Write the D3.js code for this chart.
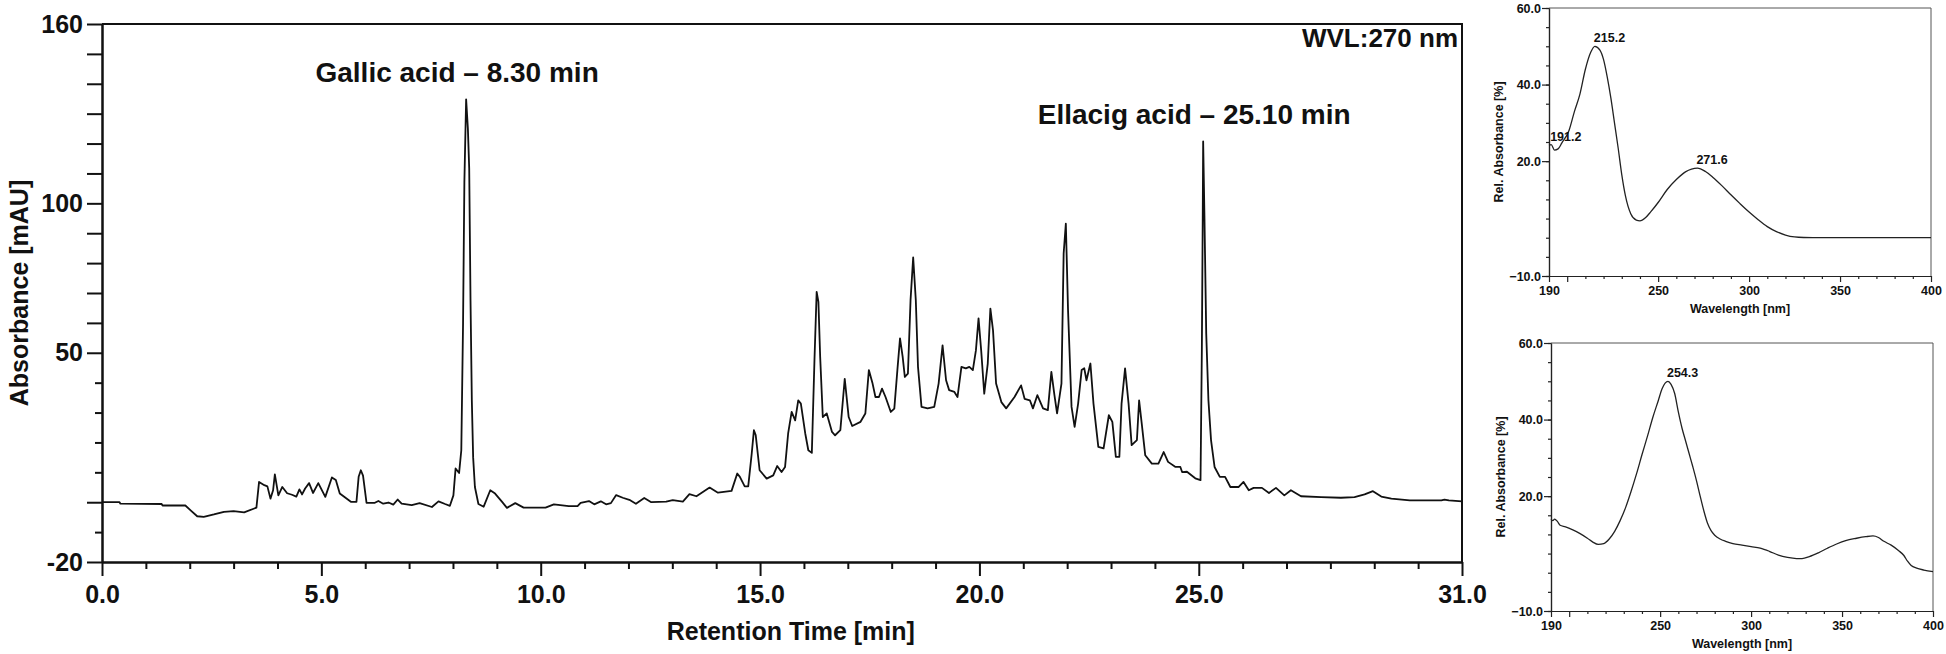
<!DOCTYPE html>
<html>
<head>
<meta charset="utf-8">
<script src="https://cdnjs.cloudflare.com/ajax/libs/d3/7.8.5/d3.min.js"></script>
<style>
	body { margin: 0; background: #fff; }
	svg text { font-family: "Liberation Sans", Arial, sans-serif; font-weight: bold; fill: #111; }
</style>
</head>
<body>
<svg id="chart" width="1946" height="654"></svg>
<script>
// chromatogram at 270 nm (min, mAU)
var retTime = [0.00, 0.40, 0.42, 1.36, 1.38, 1.90, 2.02, 2.17, 2.32, 2.55, 2.78, 3.00, 3.24, 3.47, 3.52, 3.58, 3.70, 3.77, 3.84, 3.90,
	3.94, 4.02, 4.11, 4.22, 4.33, 4.43, 4.50, 4.56, 4.63, 4.72, 4.81, 4.93, 5.09, 5.24, 5.33, 5.42, 5.52, 5.68, 5.80, 5.85,
	5.90, 5.95, 6.03, 6.22, 6.30, 6.41, 6.53, 6.64, 6.74, 6.83, 7.06, 7.24, 7.52, 7.67, 7.82, 7.93, 8.01, 8.06, 8.14, 8.19,
	8.23, 8.26, 8.30, 8.34, 8.37, 8.40, 8.43, 8.46, 8.50, 8.58, 8.70, 8.85, 8.96, 9.12, 9.23, 9.42, 9.61, 10.11, 10.30, 10.64,
	10.84, 10.91, 11.10, 11.22, 11.37, 11.49, 11.60, 11.72, 11.87, 12.02, 12.17, 12.36, 12.52, 12.86, 13.01, 13.24, 13.39, 13.55, 13.85, 14.04,
	14.35, 14.48, 14.54, 14.65, 14.73, 14.81, 14.86, 14.90, 14.99, 15.15, 15.30, 15.39, 15.49, 15.57, 15.64, 15.72, 15.80, 15.87, 15.93, 16.03,
	16.10, 16.18, 16.24, 16.29, 16.33, 16.37, 16.43, 16.52, 16.64, 16.71, 16.83, 16.93, 17.02, 17.10, 17.29, 17.40, 17.48, 17.56, 17.63, 17.71,
	17.78, 17.86, 17.98, 18.06, 18.13, 18.19, 18.25, 18.30, 18.37, 18.43, 18.49, 18.55, 18.60, 18.68, 18.82, 18.97, 19.07, 19.16, 19.24, 19.31,
	19.43, 19.50, 19.59, 19.69, 19.77, 19.85, 19.92, 19.98, 20.04, 20.11, 20.19, 20.25, 20.31, 20.38, 20.50, 20.61, 20.80, 20.95, 21.03, 21.15,
	21.22, 21.32, 21.45, 21.56, 21.64, 21.71, 21.77, 21.87, 21.92, 21.97, 22.02, 22.10, 22.17, 22.25, 22.33, 22.39, 22.44, 22.53, 22.60, 22.71,
	22.83, 22.95, 23.03, 23.11, 23.19, 23.24, 23.32, 23.40, 23.47, 23.59, 23.64, 23.70, 23.78, 23.93, 24.08, 24.20, 24.30, 24.47, 24.58, 24.62,
	24.73, 24.92, 25.04, 25.07, 25.09, 25.10, 25.13, 25.17, 25.22, 25.28, 25.36, 25.48, 25.60, 25.72, 25.91, 26.02, 26.14, 26.25, 26.44, 26.60,
	26.76, 26.95, 27.10, 27.33, 27.79, 28.24, 28.55, 28.78, 28.97, 29.16, 29.39, 29.81, 30.53, 30.60, 30.70, 31.00];
var absMau = [0.0, 0.0, -0.5, -0.6, -1.1, -1.1, -2.7, -4.7, -4.9, -4.1, -3.2, -3.0, -3.4, -2.1, -1.8, 6.8, 5.7, 5.3, 1.2, 4.0,
	9.3, 2.3, 5.1, 3.0, 2.5, 1.9, 4.3, 2.6, 4.6, 6.4, 3.1, 6.4, 1.8, 8.3, 7.4, 2.9, 1.8, 0.1, 0.1, 8.5,
	10.7, 8.9, -0.2, -0.2, 0.4, -0.5, -0.1, -0.8, 0.9, -0.5, -1.0, -0.3, -1.6, 0.3, -0.6, -1.2, 2.3, 11.3, 9.8, 17.4,
	60, 107, 134.8, 125, 111.7, 67.6, 34, 15, 5.1, -0.6, -1.5, 4.0, 2.9, 0.1, -1.9, -0.3, -1.8, -1.8, -0.7, -1.3,
	-1.3, -0.2, 0.4, -0.7, 0.3, -0.7, -0.3, 2.4, 1.5, 0.8, -0.5, 1.4, 0.0, 0.2, 0.7, 0.2, 2.7, 2.0, 4.9, 3.2,
	3.8, 9.6, 8.5, 5.3, 5.3, 16.3, 24.1, 22.5, 10.7, 7.9, 9.0, 12.1, 10.1, 11.8, 23.0, 30.2, 27.4, 34.1, 33.0, 23.0,
	17.4, 16.5, 47.5, 70.4, 67, 48.7, 28.5, 29.7, 23.5, 22.4, 24.1, 41.3, 28.5, 25.5, 26.9, 29.7, 44.2, 40.0, 35.2, 35.2,
	38.0, 35.2, 30.2, 31.3, 44.2, 54.8, 48.7, 41.9, 43.0, 67.6, 81.9, 67.6, 45.3, 31.9, 31.4, 31.9, 39.7, 52.5, 40.8, 37.5,
	36.9, 35.2, 45.3, 44.8, 45.3, 44.2, 50.8, 61.5, 50.8, 36.3, 46.4, 64.8, 57.5, 39.7, 33.5, 31.4, 35.2, 39.1, 34.6, 34.1,
	31.4, 35.8, 31.4, 30.8, 43.6, 35.8, 29.7, 39.7, 83.2, 93.2, 64.2, 31.9, 25.2, 33.0, 44.2, 44.8, 40.8, 46.4, 33.0, 18.5,
	18.0, 29.1, 26.9, 15.2, 15.2, 33.0, 44.8, 33.0, 19.1, 20.8, 34.1, 26.3, 15.7, 12.9, 12.9, 16.8, 13.5, 11.8, 11.8, 10.1,
	10.2, 8.0, 7.4, 50.8, 95, 120.7, 95, 56.4, 34.1, 20.7, 11.8, 8.5, 8.5, 5.1, 5.1, 6.8, 4.0, 4.8, 4.8, 3.1,
	4.8, 2.3, 4.0, 2.0, 1.7, 1.5, 1.7, 2.6, 3.7, 1.9, 1.2, 0.6, 0.6, 0.9, 0.6, 0.3];

var peakNames = ["Gallic acid \u2013 8.30 min", "Ellacig acid \u2013 25.10 min"];
var peakTimes = [8.30, 25.10];
var timeLabels = [0, 5, 10, 15, 20, 25, 31];
var mauLabels = [160, 100, 50, -20];

// UV spectra (nm, rel. absorbance %)
var gallicNm = [190, 191.2, 193, 195, 197, 201, 204, 207, 210, 213, 215.2, 218, 220, 222, 224, 226, 228, 230, 232, 235,
	238, 240, 243, 246, 250, 255, 260, 265, 271.6, 276, 280, 285, 290, 295, 300, 305, 310, 315, 320, 325,
	330, 340, 400];
var gallicRel = [24.1, 24.3, 22.9, 23.2, 24.7, 28, 33, 37.5, 44, 48.5, 50, 49, 46.5, 42, 36.5, 30, 23.5, 16.5, 11, 6.2,
	4.6, 4.4, 5.2, 6.8, 9.2, 12.6, 15.2, 17.2, 18.2, 17.3, 15.8, 13.6, 11.2, 8.9, 6.7, 4.7, 2.9, 1.6, 0.7, 0.2,
	0.05, 0, 0];
var gallicPeaks = [191.2, 215.2, 271.6];

var ellagicNm = [190, 191, 192, 193.5, 195, 198, 202, 206, 210, 213, 216, 219, 222, 225, 228, 231, 234, 237, 240, 243,
	246, 249, 251, 254.3, 256, 258, 260, 262, 264, 266, 268, 270, 272, 274, 276, 278, 280, 283, 286, 290,
	295, 300, 305, 310, 315, 320, 325, 328, 332, 337, 342, 347, 352, 358, 363, 367, 370, 373, 377, 381,
	384, 386, 388, 391, 395, 400];
var ellagicRel = [14.0, 13.6, 14.0, 13.4, 12.4, 12.0, 11.2, 10.2, 9.0, 8.0, 7.4, 7.6, 8.8, 10.8, 13.6, 17.0, 21.2, 25.8, 30.8, 35.6,
	40.6, 45.0, 48.0, 50.0, 49.2, 46.8, 42.0, 37.8, 34.4, 31.0, 27.6, 24.0, 20.0, 16.2, 13.0, 11.0, 9.8, 8.8, 8.2, 7.6,
	7.2, 6.8, 6.4, 5.6, 4.6, 4.0, 3.7, 3.7, 4.2, 5.2, 6.4, 7.5, 8.4, 9.0, 9.4, 9.6, 9.2, 8.2, 7.2, 5.8,
	4.5, 3.0, 1.9, 1.2, 0.7, 0.3];
var ellagicPeaks = [254.3];

var nmLabels = [190, 250, 300, 350, 400];
var relLabels = [60, 40, 20, -10];

var svg = d3.select("#chart");

function drawChromatogram() {
	var box = {left: 102, top: 24, right: 1462, bottom: 562};

	var x = d3.scaleLinear().domain([0, 31]).range([box.left, box.right]);
	var y = d3.scaleLinear().domain([-20, 160]).range([box.bottom, box.top]);

	// frame top + right
	svg.append("path")
		.attr("d", "M" + x(0) + "," + y(160) + "H" + x(31) + "V" + y(-20))
		.style("fill", "none")
		.style("stroke", "#111")
		.style("stroke-width", 2);

	var minorX = d3.range(0, 32).filter((d) => timeLabels.indexOf(d) < 0);

	svg.append("g")
		.attr("transform", "translate(0," + box.bottom + ")")
		.call(d3.axisBottom(x).tickValues(minorX).tickSize(7).tickSizeOuter(0).tickFormat(""));

	svg.append("g")
		.attr("class", "xMajor")
		.attr("transform", "translate(0," + box.bottom + ")")
		.call(d3.axisBottom(x).tickValues(timeLabels).tickSize(14).tickSizeOuter(0).tickPadding(9).tickFormat(d3.format(".1f")));

	var majorY = d3.range(50, 161, 10).concat([0, -20]);
	var minorY = [40, 30, 20, 10, -10];

	svg.append("g")
		.attr("transform", "translate(" + box.left + ",0)")
		.call(d3.axisLeft(y).tickValues(minorY).tickSize(7).tickSizeOuter(0).tickFormat(""));

	svg.append("g")
		.attr("class", "yMajor")
		.attr("transform", "translate(" + box.left + ",0)")
		.call(d3.axisLeft(y).tickValues(majorY).tickSize(15).tickSizeOuter(0).tickPadding(4)
			.tickFormat((d) => mauLabels.indexOf(d) >= 0 ? d : ""));

	svg.selectAll(".xMajor text, .yMajor text")
		.style("font-size", "25px")
		.style("font-family", null);

	svg.selectAll(".domain, .tick line")
		.style("stroke", "#111")
		.style("stroke-width", 2);

	var line = d3.line()
		.x((d) => x(d[0]))
		.y((d) => y(d[1]));

	svg.append("path")
		.datum(d3.zip(retTime, absMau))
		.attr("d", line)
		.style("fill", "none")
		.style("stroke", "#111")
		.style("stroke-width", 1.8)
		.style("stroke-linejoin", "round");

	// peak labels
	peakTimes.forEach((t, i) => {
		var top = d3.max(retTime.map((r, j) => Math.abs(r - t) < 0.1 ? absMau[j] : -99));
		svg.append("text")
			.attr("x", x(t) - 9)
			.attr("y", y(top) - 17)
			.attr("text-anchor", "middle")
			.style("font-size", "28px")
			.text(peakNames[i]);
	});

	svg.append("text")
		.attr("x", x(31) - 4)
		.attr("y", box.top + 23)
		.attr("text-anchor", "end")
		.style("font-size", "26px")
		.text("WVL:270 nm");

	svg.append("text")
		.attr("x", x(15.7))
		.attr("y", 640)
		.attr("text-anchor", "middle")
		.style("font-size", "25px")
		.text("Retention Time [min]");

	svg.append("text")
		.attr("transform", "translate(28," + y(70) + ") rotate(-90)")
		.attr("text-anchor", "middle")
		.style("font-size", "25px")
		.text("Absorbance [mAU]");
}

function drawSpectrum(box, nm, rel, peaks) {
	var g = svg.append("g");

	var x = d3.scaleLinear().domain([190, 400]).range([box.left, box.right]);
	var y = d3.scaleLinear().domain([-10, 60]).range([box.bottom, box.top]);

	g.append("path")
		.attr("d", "M" + x(190) + "," + y(60) + "H" + x(400) + "V" + y(-10))
		.style("fill", "none")
		.style("stroke", "#555")
		.style("stroke-width", 1);

	var minorX = d3.range(190, 401, 10).filter((d) => [190, 200, 250, 300, 350, 400].indexOf(d) < 0);

	g.append("g")
		.attr("transform", "translate(0," + box.bottom + ")")
		.call(d3.axisBottom(x).tickValues(minorX).tickSize(3).tickSizeOuter(0).tickFormat(""));

	g.append("g")
		.attr("class", "sMajor")
		.attr("transform", "translate(0," + box.bottom + ")")
		.call(d3.axisBottom(x).tickValues([190, 200, 250, 300, 350, 400]).tickSize(6).tickSizeOuter(0).tickPadding(4)
			.tickFormat((d) => nmLabels.indexOf(d) >= 0 ? d : ""));

	g.append("g")
		.attr("transform", "translate(" + box.left + ",0)")
		.call(d3.axisLeft(y).tickValues(d3.range(-10, 61, 5)).tickSize(3).tickSizeOuter(0).tickFormat(""));

	g.append("g")
		.attr("class", "sMajor")
		.attr("transform", "translate(" + box.left + ",0)")
		.call(d3.axisLeft(y).tickValues(relLabels).tickSize(7).tickSizeOuter(0).tickPadding(1).tickFormat(d3.format(".1f")));

	g.selectAll(".sMajor text")
		.style("font-size", "12.5px")
		.style("font-family", null);

	g.selectAll(".domain, .tick line")
		.style("stroke", "#222")
		.style("stroke-width", 1.2);

	var line = d3.line()
		.x((d) => x(d[0]))
		.y((d) => y(d[1]))
		.curve(d3.curveMonotoneX);

	g.append("path")
		.datum(d3.zip(nm, rel))
		.attr("d", line)
		.style("fill", "none")
		.style("stroke", "#222")
		.style("stroke-width", 1.3);

	peaks.forEach((p) => {
		var v = rel[nm.indexOf(p)];
		g.append("text")
			.attr("x", x(p) - 1)
			.attr("y", y(v) - 4)
			.style("font-size", "12.5px")
			.text(p.toFixed(1));
	});

	g.append("text")
		.attr("x", (box.left + box.right) / 2)
		.attr("y", box.bottom + 37)
		.attr("text-anchor", "middle")
		.style("font-size", "12.5px")
		.text("Wavelength [nm]");

	g.append("text")
		.attr("transform", "translate(" + (box.left - 46) + "," + ((box.top + box.bottom) / 2) + ") rotate(-90)")
		.attr("text-anchor", "middle")
		.style("font-size", "12.5px")
		.text("Rel. Absorbance [%]");
}

drawChromatogram();
drawSpectrum({left: 1549, top: 8, right: 1931, bottom: 276}, gallicNm, gallicRel, gallicPeaks);
drawSpectrum({left: 1551, top: 343, right: 1933, bottom: 611}, ellagicNm, ellagicRel, ellagicPeaks);
</script>
</body>
</html>
